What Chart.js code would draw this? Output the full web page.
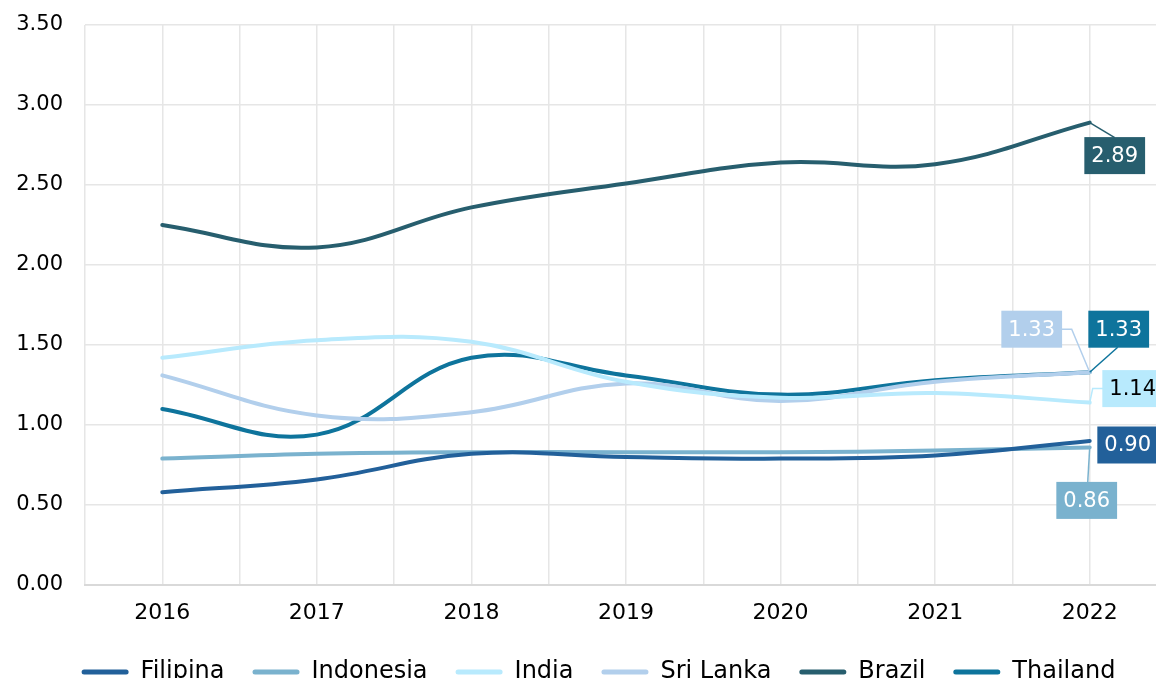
<!DOCTYPE html>
<html>
<head>
<meta charset="utf-8">
<script src="https://cdn.jsdelivr.net/npm/chart.js@4/dist/chart.umd.min.js"></script>
<style>
  html, body { margin: 0; padding: 0; overflow: hidden; background: #fff; }
  #wrap { width: 1228px; height: 694px; }
</style>
</head>
<body>
<div id="wrap"><canvas id="ratio-chart"></canvas></div>
<script>
const years = [2016, 2017, 2018, 2019, 2020, 2021, 2022];

const filipina = [0.58, 0.66, 0.82, 0.80, 0.79, 0.81, 0.90];
const indonesia = [0.79, 0.82, 0.83, 0.83, 0.83, 0.84, 0.86];
const india = [1.42, 1.53, 1.52, 1.27, 1.17, 1.20, 1.14];
const sriLanka = [1.31, 1.06, 1.08, 1.26, 1.15, 1.27, 1.33];
const brazil = [2.25, 2.11, 2.36, 2.51, 2.64, 2.63, 2.89];
const thailand = [1.10, 0.94, 1.42, 1.31, 1.19, 1.28, 1.33];

const yTicks = [0, 0.5, 1, 1.5, 2, 2.5, 3, 3.5];

const FONT = "'DejaVu Sans', sans-serif";

const series = [
  { label: "Filipina", data: filipina, color: "#22609A" },
  { label: "Indonesia", data: indonesia, color: "#7AB2CE" },
  { label: "India", data: india, color: "#B8EAFD" },
  { label: "Sri Lanka", data: sriLanka, color: "#B2CFEC" },
  { label: "Brazil", data: brazil, color: "#275E6E" },
  { label: "Thailand", data: thailand, color: "#0E749C" },
];

// end-of-line value boxes: offset of the box centre from the last point,
// plus an optional leader path (relative to the point)
const endLabels = {
  "Filipina": { dx: 38, dy: 4, text: "#fff", leader: null },
  "Indonesia": { dx: -3, dy: 53, text: "#fff", leader: [[-2, 35], [0, 0]] },
  "India": { dx: 43, dy: -14, text: "#000", leader: [[15, -14], [3, -14], [0, 0]] },
  "Sri Lanka": { dx: -58, dy: -43, text: "#fff", leader: [[-30, -43], [-18, -43], [0, 0]] },
  "Brazil": { dx: 25, dy: 33, text: "#fff", leader: [[0, 0], [25, 15]] },
  "Thailand": { dx: 29, dy: -43, text: "#fff", leader: [[28, -25], [0, 0]] },
};

const endLabelPlugin = {
  id: "endLabels",
  afterDatasetsDraw(chart) {
    const ctx = chart.ctx;
    ctx.save();
    ctx.font = "21px " + FONT;
    ctx.textAlign = "center";
    ctx.textBaseline = "middle";
    chart.data.datasets.forEach((ds, i) => {
      const cfg = endLabels[ds.label];
      const meta = chart.getDatasetMeta(i);
      const last = meta.data[meta.data.length - 1];
      const value = ds.data[ds.data.length - 1].y;
      const px = last.x, py = last.y;
      if (cfg.leader) {
        ctx.strokeStyle = ds.borderColor;
        ctx.lineWidth = 1.5;
        ctx.beginPath();
        cfg.leader.forEach(([lx, ly], k) => {
          if (k === 0) ctx.moveTo(px + lx, py + ly);
          else ctx.lineTo(px + lx, py + ly);
        });
        ctx.stroke();
      }
      const text = value.toFixed(2);
      const w = ctx.measureText(text).width + 14;
      const h = 37;
      const cx = px + cfg.dx, cy = py + cfg.dy;
      ctx.fillStyle = ds.borderColor;
      ctx.fillRect(cx - w / 2, cy - h / 2, w, h);
      ctx.fillStyle = cfg.text;
      ctx.fillText(text, cx, cy + 1);
    });
    ctx.restore();
  },
};

// nudge the legend row a little to the right
const legendShift = {
  id: "legendShift",
  afterLayout(chart) {
    if (chart.legend) {
      chart.legend.left += 15;
      chart.legend.right += 15;
    }
  },
};

new Chart(document.getElementById("ratio-chart"), {
  type: "line",
  data: {
    datasets: series.map((s) => ({
      label: s.label,
      data: years.map((yr, i) => ({ x: yr, y: s.data[i] })),
      borderColor: s.color,
      backgroundColor: s.color,
      borderWidth: 4,
      pointRadius: 0,
      tension: 0.4,
      borderCapStyle: "round",
    })),
  },
  options: {
    responsive: true,
    maintainAspectRatio: false,
    animation: false,
    layout: { padding: { top: 25, right: 61, bottom: 0, left: 0 } },
    scales: {
      x: {
        type: "linear",
        min: 2015.5,
        max: 2022.5,
        afterBuildTicks: (scale) => {
          scale.ticks = [];
          for (let v = 2015.5; v <= 2022.5; v += 0.5) scale.ticks.push({ value: v });
        },
        afterFit: (scale) => {
          scale.height = 47;
        },
        ticks: {
          autoSkip: false,
          maxRotation: 0,
          padding: 15,
          color: "#000",
          font: { family: FONT, size: 22 },
          callback: (v) => (Number.isInteger(v) ? String(v) : ""),
        },
        grid: { color: "#E6E6E6", lineWidth: 1.5, drawTicks: false },
        border: { color: "#D9D9D9", width: 2 },
      },
      y: {
        min: 0,
        max: 3.5,
        afterBuildTicks: (scale) => {
          scale.ticks = yTicks.map((v) => ({ value: v }));
        },
        afterFit: (scale) => {
          scale.width = 85;
          scale.paddingTop = 0;
          scale.paddingBottom = 0;
        },
        ticks: {
          padding: 22,
          color: "#000",
          font: { family: FONT, size: 21 },
          callback: (v) => v.toFixed(2),
        },
        grid: { color: "#E6E6E6", lineWidth: 1.5, drawTicks: false },
        border: { display: false },
      },
    },
    plugins: {
      legend: {
        position: "bottom",
        labels: {
          boxWidth: 47,
          boxHeight: 5,
          padding: 28,
          color: "#000",
          font: { family: FONT, size: 24 },
          generateLabels: (chart) =>
            chart.data.datasets.map((ds, i) => ({
              text: ds.label,
              fillStyle: ds.borderColor,
              strokeStyle: ds.borderColor,
              lineWidth: 0,
              borderRadius: 2.5,
              fontColor: "#000",
              datasetIndex: i,
            })),
        },
      },
      tooltip: { enabled: false },
    },
  },
  plugins: [endLabelPlugin, legendShift],
});
</script>
</body>
</html>
